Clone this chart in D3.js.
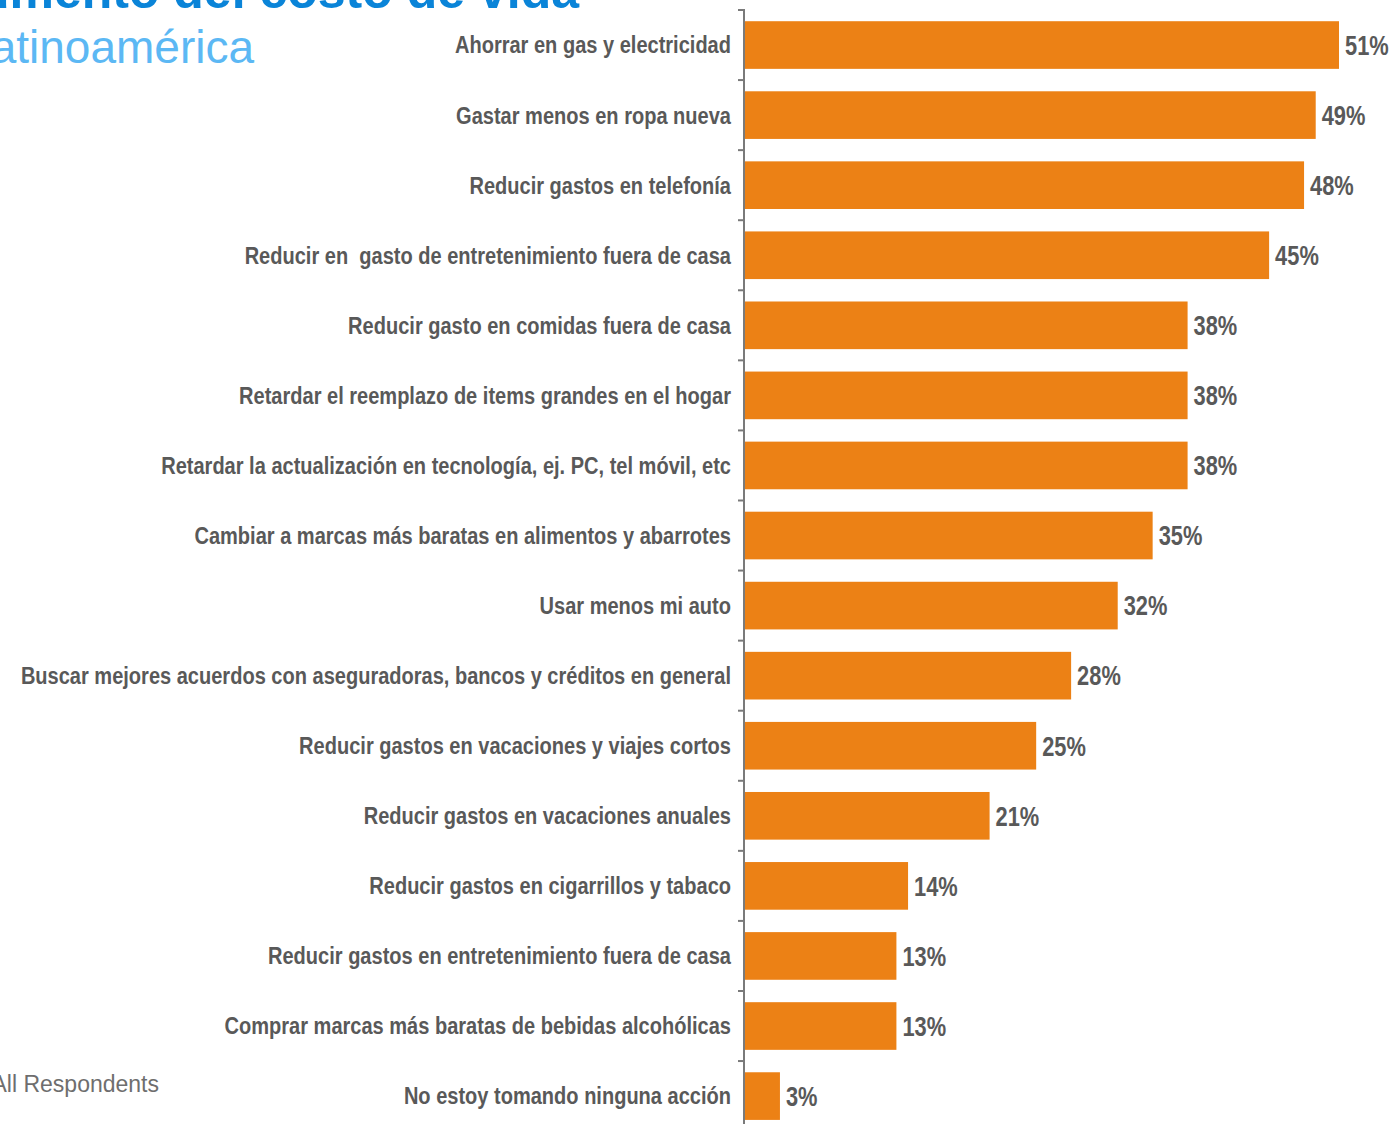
<!DOCTYPE html>
<html>
<head>
<meta charset="utf-8">
<script src="https://cdn.jsdelivr.net/npm/d3@7"></script>
<style>
  html, body { margin: 0; padding: 0; background: #fff; overflow: hidden; }
  svg { display: block; }
</style>
</head>
<body>
<svg id="chart" width="1394" height="1124"></svg>
<script>
const categories = [
  "Ahorrar en gas y electricidad",
  "Gastar menos en ropa nueva",
  "Reducir gastos en telefonía",
  "Reducir en  gasto de entretenimiento fuera de casa",
  "Reducir gasto en comidas fuera de casa",
  "Retardar el reemplazo de items grandes en el hogar",
  "Retardar la actualización en tecnología, ej. PC, tel móvil, etc",
  "Cambiar a marcas más baratas en alimentos y abarrotes",
  "Usar menos mi auto",
  "Buscar mejores acuerdos con aseguradoras, bancos y créditos en general",
  "Reducir gastos en vacaciones y viajes cortos",
  "Reducir gastos en vacaciones anuales",
  "Reducir gastos en cigarrillos y tabaco",
  "Reducir gastos en entretenimiento fuera de casa",
  "Comprar marcas más baratas de bebidas alcohólicas",
  "No estoy tomando ninguna acción"
];
const values = [51, 49, 48, 45, 38, 38, 38, 35, 32, 28, 25, 21, 14, 13, 13, 3];
const titleText = "Aumento del costo de vida";
const subtitleText = "Latinoamérica";
const baseText = "All Respondents";

const svg = d3.select("#chart");
const sans = "'Liberation Sans', Arial, sans-serif";

// Titles (partially out of frame as in reference)
svg.append("text")
  .attr("x", 579).attr("y", 8)
  .attr("text-anchor", "end")
  .style("font-family", sans)
  .style("font-weight", "bold")
  .style("font-size", "50px")
  .style("fill", "#0a84d8")
  .text(titleText);

svg.append("text")
  .attr("x", 254).attr("y", 63)
  .attr("text-anchor", "end")
  .style("font-family", sans)
  .style("font-size", "46px")
  .style("fill", "#5cb8f4")
  .text(subtitleText);

svg.append("text")
  .attr("x", 159).attr("y", 1092)
  .attr("text-anchor", "end")
  .style("font-family", sans)
  .style("font-size", "23px")
  .style("fill", "#6e6e6e")
  .text(baseText);

// Scales
const y = d3.scaleBand()
  .domain(categories)
  .range([10, 10 + 16 * 70.07])
  .paddingInner(0.32)
  .paddingOuter(0.16);

const x = d3.scaleLinear().domain([0, 51]).range([745, 1339]);

// Bars
svg.append("g").selectAll("rect")
  .data(categories)
  .join("rect")
  .attr("x", x(0))
  .attr("y", d => y(d))
  .attr("width", (d, i) => x(values[i]) - x(0))
  .attr("height", y.bandwidth())
  .attr("fill", "#ec8115");

// Axis line and ticks (ticks at category boundaries)
const step = y.step();
const boundaries = categories.map(d => y(d) - step * y.paddingInner() / 2);
const axisG = svg.append("g");
axisG.append("line")
  .attr("x1", 744).attr("x2", 744)
  .attr("y1", boundaries[0]).attr("y2", 1124)
  .attr("stroke", "#7a7a7a").attr("stroke-width", 2);
axisG.selectAll("line.tick")
  .data(boundaries)
  .join("line")
  .attr("class", "tick")
  .attr("x1", 738).attr("x2", 745)
  .attr("y1", d => d).attr("y2", d => d)
  .attr("stroke", "#7a7a7a").attr("stroke-width", 2);

// Category labels (horizontally condensed like a narrow face)
svg.append("g").selectAll("text")
  .data(categories)
  .join("text")
  .attr("transform", d => `translate(731,${y(d) + y.bandwidth() / 2}) scale(0.835,1)`)
  .attr("dy", "0.35em")
  .attr("text-anchor", "end")
  .style("font-family", sans)
  .style("font-weight", "bold")
  .style("font-size", "24px")
  .style("fill", "#595959")
  .style("white-space", "pre")
  .text(d => d);

// Value labels
svg.append("g").selectAll("text")
  .data(categories)
  .join("text")
  .attr("transform", (d, i) => `translate(${x(values[i]) + 6},${y(d) + y.bandwidth() / 2}) scale(0.78,1)`)
  .attr("dy", "0.35em")
  .style("font-family", sans)
  .style("font-weight", "bold")
  .style("font-size", "28px")
  .style("fill", "#595959")
  .text((d, i) => values[i] + "%");
</script>
</body>
</html>
